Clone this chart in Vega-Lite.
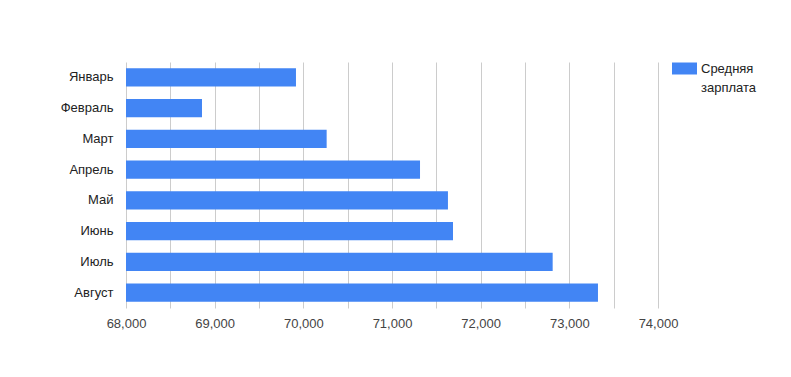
{
  "$schema": "https://vega.github.io/schema/vega-lite/v6.json",
  "width": 532,
  "height": 246,
  "autosize": {"type": "none"},
  "padding": {"left": 126, "top": 62, "right": 133, "bottom": 69},
  "background": "#ffffff",
  "config": {
    "view": {"stroke": null},
    "font": "Liberation Sans"
  },
  "data": {
    "values": [
      {"month": "Январь", "salary": 69917, "series": "Средняя зарплата"},
      {"month": "Февраль", "salary": 68857, "series": "Средняя зарплата"},
      {"month": "Март", "salary": 70263, "series": "Средняя зарплата"},
      {"month": "Апрель", "salary": 71316, "series": "Средняя зарплата"},
      {"month": "Май", "salary": 71631, "series": "Средняя зарплата"},
      {"month": "Июнь", "salary": 71688, "series": "Средняя зарплата"},
      {"month": "Июль", "salary": 72812, "series": "Средняя зарплата"},
      {"month": "Август", "salary": 73323, "series": "Средняя зарплата"}
    ]
  },
  "mark": {"type": "bar", "clip": true},
  "encoding": {
    "y": {
      "field": "month",
      "type": "nominal",
      "sort": null,
      "scale": {"paddingInner": 0.4, "paddingOuter": 0.2},
      "axis": {
        "title": null,
        "domain": false,
        "ticks": false,
        "grid": false,
        "labelFontSize": 13,
        "labelColor": "#222222",
        "labelPadding": 13
      }
    },
    "x": {
      "field": "salary",
      "type": "quantitative",
      "scale": {"domain": [68000, 74000], "zero": false, "nice": false},
      "axis": {
        "title": null,
        "domain": false,
        "ticks": false,
        "values": [68000, 68500, 69000, 69500, 70000, 70500, 71000, 71500, 72000, 72500, 73000, 73500, 74000],
        "labelExpr": "datum.value % 1000 == 0 ? format(datum.value, ',') : ''",
        "labelFlush": false,
        "labelFontSize": 13,
        "labelColor": "#444444",
        "labelPadding": 9,
        "gridColor": "#cccccc",
        "gridOpacity": 1
      }
    },
    "color": {
      "field": "series",
      "type": "nominal",
      "scale": {"range": ["#4285f4"]},
      "legend": {
        "title": null,
        "orient": "none",
        "legendX": 546,
        "legendY": -6,
        "symbolType": "M-1,-0.48H1V0.48H-1Z",
        "symbolSize": 625,
        "symbolStrokeWidth": 0,
        "symbolOpacity": 1,
        "labelFontSize": 13,
        "labelColor": "#222222",
        "labelOffset": 4,
        "labelExpr": "['Средняя', 'зарплата']",
        "labelLimit": 200,
        "encode": {
          "labels": {"update": {"lineHeight": {"value": 19}, "baseline": {"value": "middle"}}}
        }
      }
    }
  }
}
